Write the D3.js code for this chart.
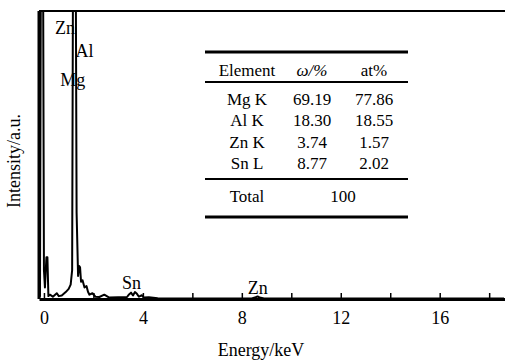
<!DOCTYPE html>
<html>
<head>
<meta charset="utf-8">
<script src="https://cdn.jsdelivr.net/npm/d3@7"></script>
<style>
  body { margin: 0; background: #fff; }
  svg text { font-family: "Liberation Serif", "Times New Roman", Times, serif; fill: #000; }
</style>
</head>
<body>
<div id="chart-area"></div>
<script>
// EDS spectrum, energy in keV, intensity in arbitrary units
let energy = [-0.2, -0.16, -0.12, -0.04, 0.0, 0.04, 0.1, 0.14, 0.18, 0.24, 0.36, 0.52, 0.6, 0.72, 0.88,
    1.0, 1.08, 1.14, 1.18, 1.28, 1.32, 1.38, 1.42, 1.46, 1.5, 1.56, 1.64, 1.72, 1.78, 1.84, 1.96,
    2.08, 2.24, 2.44, 2.64, 3.0, 3.36, 3.44, 3.52, 3.6, 3.68, 3.76, 3.84, 3.96, 4.04, 4.24, 4.6,
    6.0, 8.4, 8.56, 8.64, 8.72, 8.9, 12.0, 16.0, 18.6];
let counts = [0.5, 1, 130, 130, 10, 4, 14.5, 14.5, 1, 1.5, 0.8, 2, 1, 1.2, 2.4,
    3.5, 5, 10, 130, 130, 30, 8, 11.5, 11, 6, 6.5, 4, 4.5, 2.5, 1.5, 2,
    0.8, 0.7, 1.5, 0.5, 0.6, 0.7, 1.6, 2.2, 1.2, 2.4, 1.8, 0.8, 1.3, 0.5, 0.6, 0.3,
    0.2, 0.2, 0.6, 0.9, 0.5, 0.2, 0.2, 0.2, 0.2];

let peakLabels = ["Zn", "Al", "Mg", "Sn", "Zn"];
let peakEnergy = [0.45, 1.28, 0.66, 3.16, 8.24];
let peakHeight = [92, 84, 74, 3.5, 1.8];

let tableHead = ["Element", "ω/%", "at%"];
let tableElements = ["Mg K", "Al K", "Zn K", "Sn L"];
let tableWt = ["69.19", "18.30", "3.74", "8.77"];
let tableAt = ["77.86", "18.55", "1.57", "2.02"];
let tableTotal = ["Total", "100"];

let xTicks = [0, 2, 4, 6, 8, 10, 12, 14, 16, 18];

let serif = "'Liberation Serif', 'Times New Roman', Times, serif";

let margin = {top: 11, right: 0, bottom: 64, left: 39},
    width = 505 - margin.left - margin.right,
    height = 363 - margin.top - margin.bottom;

let svg = d3.select("#chart-area")
    .append("svg")
        .attr("width", 505)
        .attr("height", 363)
        .attr("font-family", serif)
    .append("g")
        .attr("transform", "translate(" + margin.left + ", " + margin.top + ")");

let x = d3.scaleLinear()
    .domain([-0.2, 18.64])
    .range([0, width]);

let y = d3.scaleLinear()
    .domain([0, 100])
    .range([height, 0]);

svg.append("clipPath")
    .attr("id", "plot-clip")
    .append("rect")
        .attr("x", 0)
        .attr("y", 0)
        .attr("width", width)
        .attr("height", height);

// peak labels go under the trace
svg.selectAll(".peak-label")
    .data(peakLabels)
    .enter()
    .append("text")
        .attr("class", "peak-label")
        .attr("x", (d, i) => x(peakEnergy[i]))
        .attr("y", (d, i) => y(peakHeight[i]))
        .attr("font-size", "18px")
        .text(d => d);

// spectrum
let line = d3.line()
    .x((d, i) => x(energy[i]))
    .y(d => y(d));

svg.append("path")
    .datum(counts)
    .attr("clip-path", "url(#plot-clip)")
    .attr("fill", "none")
    .attr("stroke", "#000")
    .attr("stroke-width", 2)
    .attr("stroke-linejoin", "round")
    .attr("d", line);

// frame: top line and left axis
svg.append("line")
    .attr("x1", 0)
    .attr("x2", width)
    .attr("y1", 0)
    .attr("y2", 0)
    .attr("stroke", "#000")
    .attr("stroke-width", 2);

svg.append("line")
    .attr("x1", 0)
    .attr("x2", 0)
    .attr("y1", 0)
    .attr("y2", height)
    .attr("stroke", "#000")
    .attr("stroke-width", 3);

// x axis, ticks pointing inward
let xAxisCall = d3.axisBottom(x)
    .tickValues(xTicks)
    .tickSizeInner(-6)
    .tickSizeOuter(0)
    .tickPadding(12)
    .tickFormat(d => d % 4 === 0 ? d : "");

let xAxisGroup = svg.append("g")
    .attr("class", "x-axis")
    .attr("transform", "translate(0, " + height + ")")
    .call(xAxisCall)
    .attr("font-family", serif)
    .attr("font-size", "18px");

xAxisGroup.select(".domain")
    .attr("stroke-width", 3);
xAxisGroup.selectAll(".tick line")
    .attr("stroke-width", 1.5);

// axis labels
svg.append("text")
    .attr("x", width / 2 - 11)
    .attr("y", height + 57)
    .attr("font-size", "18px")
    .attr("text-anchor", "middle")
    .text("Energy/keV");

svg.append("text")
    .attr("x", -150)
    .attr("y", -19)
    .attr("font-size", "18px")
    .attr("text-anchor", "middle")
    .attr("transform", "rotate(-90)")
    .text("Intensity/a.u.");

// composition table
let tbl = svg.append("g")
    .attr("transform", "translate(" + (205 - margin.left) + ", " + (52 - margin.top) + ")");

let tblWidth = 203;
let colX = [42, 107, 169];
let rowY = [24, 53, 74, 96, 117];

let rules = [{y: 0, w: 3}, {y: 30, w: 2}, {y: 127, w: 2}, {y: 165, w: 3}];
tbl.selectAll(".rule")
    .data(rules)
    .enter()
    .append("line")
        .attr("class", "rule")
        .attr("x1", 0)
        .attr("x2", tblWidth)
        .attr("y1", d => d.y)
        .attr("y2", d => d.y)
        .attr("stroke", "#000")
        .attr("stroke-width", d => d.w);

tbl.selectAll(".head")
    .data(tableHead)
    .enter()
    .append("text")
        .attr("class", "head")
        .attr("x", (d, i) => colX[i])
        .attr("y", rowY[0])
        .attr("font-size", "17px")
        .attr("font-style", (d, i) => i === 1 ? "italic" : "normal")
        .attr("text-anchor", "middle")
        .text(d => d);

let rows = tbl.selectAll(".row")
    .data(tableElements)
    .enter()
    .append("g")
        .attr("class", "row")
        .attr("transform", (d, i) => "translate(0, " + rowY[i + 1] + ")");

rows.append("text").attr("x", colX[0]).text(d => d);
rows.append("text").attr("x", colX[1]).text((d, i) => tableWt[i]);
rows.append("text").attr("x", colX[2]).text((d, i) => tableAt[i]);
rows.selectAll("text")
    .attr("font-size", "17px")
    .attr("text-anchor", "middle");

tbl.selectAll(".total")
    .data(tableTotal)
    .enter()
    .append("text")
        .attr("class", "total")
        .attr("x", (d, i) => i === 0 ? colX[0] : (colX[1] + colX[2]) / 2)
        .attr("y", 150)
        .attr("font-size", "17px")
        .attr("text-anchor", "middle")
        .text(d => d);
</script>
</body>
</html>
